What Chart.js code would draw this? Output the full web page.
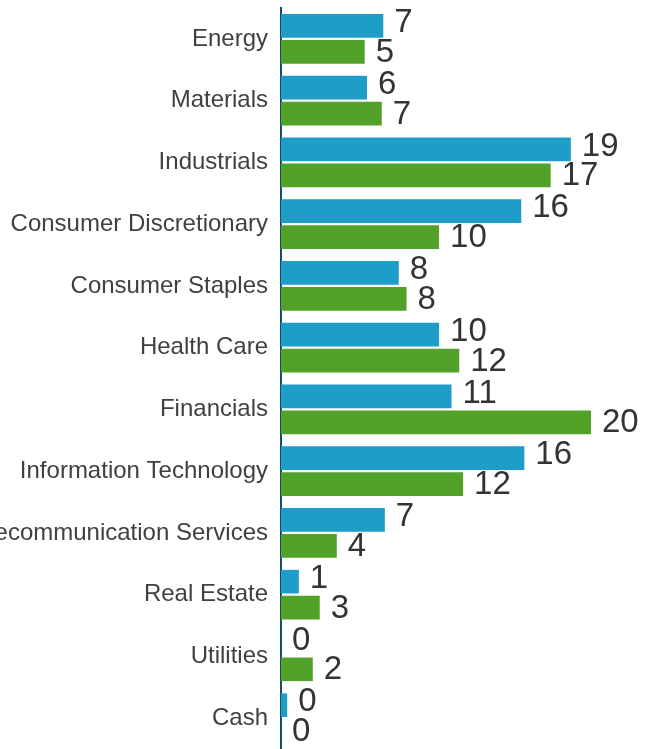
<!DOCTYPE html>
<html>
<head>
<meta charset="utf-8">
<script src="https://cdn.jsdelivr.net/npm/chart.js@4.4.0/dist/chart.umd.min.js"></script>
<style>
  html, body { margin: 0; padding: 0; background: #fff; }
  #wrap { width: 646px; height: 749px; position: relative; }
</style>
</head>
<body>
<div id="wrap"><canvas id="myChart"></canvas></div>
<script>
const sectors = ['Energy', 'Materials', 'Industrials', 'Consumer Discretionary', 'Consumer Staples', 'Health Care',
    'Financials', 'Information Technology', 'Telecommunication Services', 'Real Estate', 'Utilities', 'Cash'];
const fundWeights = [6.6, 5.55, 18.7, 15.5, 7.6, 10.2, 11.0, 15.7, 6.7, 1.15, 0, 0.4];
const benchWeights = [5.4, 6.5, 17.4, 10.2, 8.1, 11.5, 20.0, 11.75, 3.6, 2.5, 2.05, 0];

// value labels drawn to the right of each bar (rounded)
const labelShift = [-3, 1];
const valueLabels = {
    id: 'valueLabels',
    afterDatasetsDraw(chart) {
        const ctx = chart.ctx;
        ctx.save();
        ctx.font = '33px "Liberation Sans", Arial, sans-serif';
        ctx.fillStyle = '#333333';
        ctx.textAlign = 'left';
        ctx.textBaseline = 'middle';
        chart.data.datasets.forEach((ds, i) => {
            const meta = chart.getDatasetMeta(i);
            meta.data.forEach((bar, j) => {
                ctx.fillText(Math.round(ds.data[j]), bar.x + 11, bar.y + labelShift[i]);
            });
        });
        ctx.restore();
    }
};

const ctx = document.getElementById('myChart').getContext('2d');
const myChart = new Chart(ctx, {
    type: 'bar',
    data: {
        labels: sectors,
        datasets: [{
            label: 'Fund',
            data: fundWeights,
            backgroundColor: '#1e9dc9',
            borderWidth: 0,
            barPercentage: 0.91,
            categoryPercentage: 0.84
        }, {
            label: 'Benchmark',
            data: benchWeights,
            backgroundColor: '#52a129',
            borderWidth: 0,
            barPercentage: 0.91,
            categoryPercentage: 0.84
        }]
    },
    options: {
        indexAxis: 'y',
        responsive: true,
        maintainAspectRatio: false,
        animation: false,
        layout: { padding: { top: 8, right: 0, bottom: 0, left: 0 } },
        plugins: {
            legend: { display: false },
            tooltip: { enabled: false }
        },
        scales: {
            x: {
                display: false,
                min: 0,
                max: 23.55
            },
            y: {
                grid: { display: false, drawTicks: false },
                border: { display: true, color: '#154c6f', width: 2 },
                ticks: {
                    autoSkip: false,
                    padding: 13,
                    color: '#404040',
                    font: { family: '"Liberation Sans", Arial, sans-serif', size: 24 }
                },
                afterFit(scale) {
                    scale.width = 281;
                    scale.paddingTop = 0;
                    scale.paddingBottom = 0;
                }
            }
        }
    },
    plugins: [valueLabels]
});
</script>
</body>
</html>
